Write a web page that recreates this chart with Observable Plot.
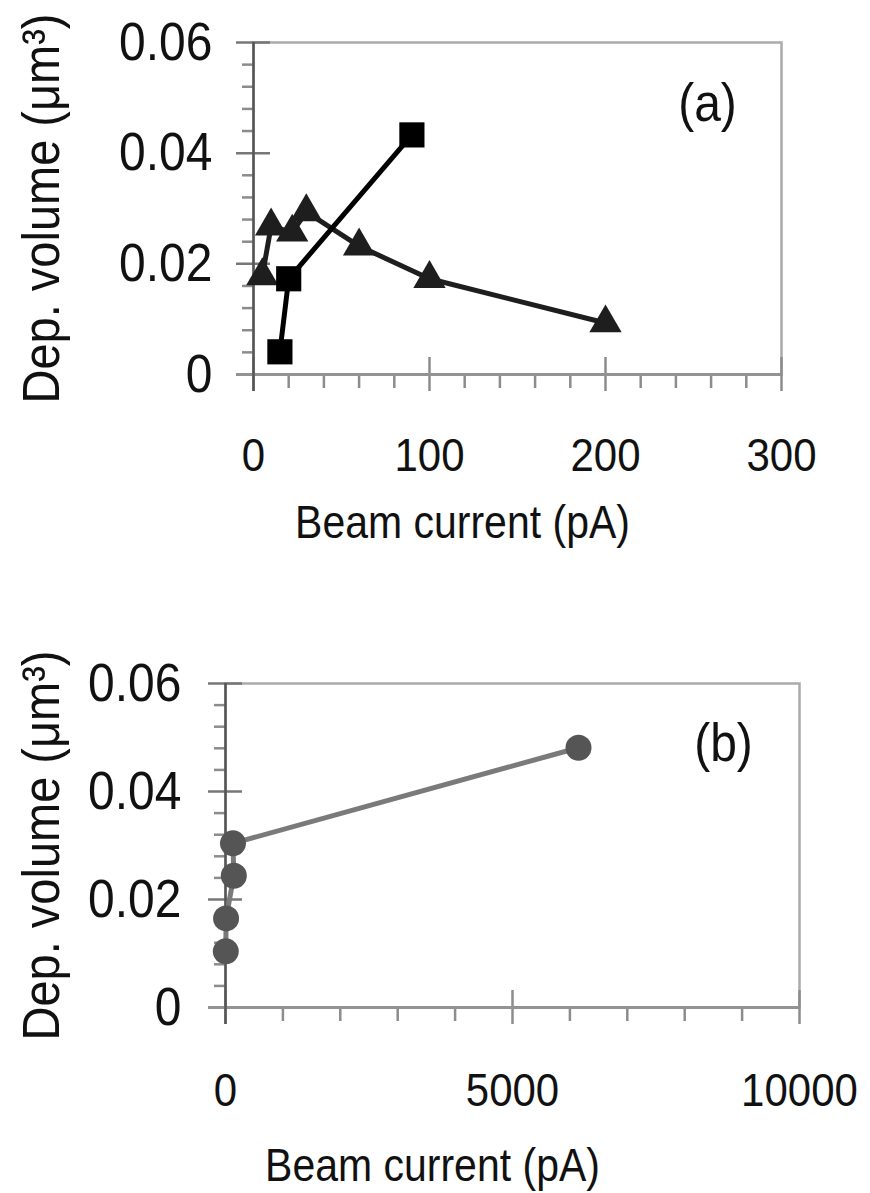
<!DOCTYPE html>
<html>
<head>
<meta charset="utf-8">
<script src="https://cdn.jsdelivr.net/npm/d3@7"></script>
<script src="https://cdn.jsdelivr.net/npm/@observablehq/plot@0.6"></script>
<style>
  html, body { margin: 0; padding: 0; background: white; }
  #chart svg { display: block; }
</style>
</head>
<body>
<div id="chart"></div>
<script>
// ---------- data ----------
// Panel (a)
const aSquareX = [15, 20, 90];
const aSquareY = [0.0041, 0.0173, 0.0433];
const aTriangleX = [5, 10, 22, 30, 60, 100, 200];
const aTriangleY = [0.0178, 0.0268, 0.0257, 0.0294, 0.0232, 0.0173, 0.0093];
// Panel (b)
const bCircleX = [5, 10, 145, 130, 6150];
const bCircleY = [0.0104, 0.0165, 0.0244, 0.0304, 0.0481];

// Axes / text
const yMajor = [0, 0.02, 0.04, 0.06];
const yMajorLabels = ["0", "0.02", "0.04", "0.06"];
const yMinor = [0.004, 0.008, 0.012, 0.016, 0.024, 0.028, 0.032, 0.036, 0.044, 0.048, 0.052, 0.056];
const aXMajor = [0, 100, 200, 300];
const aXMajorLabels = ["0", "100", "200", "300"];
const aXMinor = [20, 40, 60, 80, 120, 140, 160, 180, 220, 240, 260, 280];
const bXMajor = [0, 5000, 10000];
const bXMajorLabels = ["0", "5000", "10000"];
const bXMinor = [1000, 2000, 3000, 4000, 6000, 7000, 8000, 9000];
const yTitle = "Dep. volume (μm³)";
const xTitle = "Beam current (pA)";
const aTag = "(a)";
const bTag = "(b)";

const FONT = "'Liberation Sans', Arial, Helvetica, sans-serif";
const STRETCH = 1.12;

function rows(xs, ys) { return xs.map((x, i) => ({x, y: ys[i]})); }

function stretchText(svg) {
  d3.select(svg).selectAll("text").each(function () {
    const t = this.getAttribute("transform");
    if (t) {
      this.setAttribute("transform", t + ` scale(1,${STRETCH})`);
    } else {
      const x = +this.getAttribute("x") || 0, y = +this.getAttribute("y") || 0;
      this.removeAttribute("x"); this.removeAttribute("y");
      this.setAttribute("transform", `translate(${x},${y}) scale(1,${STRETCH})`);
    }
  });
  return svg;
}

function axisMarks({W, H, xMajor, xMajorLabels, xMinor, xPad, yPad, titleDx, titleDy, yTitleDx, tag, tagDx, tagDy}) {
  return [
    Plot.frame({stroke: "#ababab", strokeWidth: 2.5}),
    // y ticks
    Plot.tickY(yMinor, {y: d => d, stroke: "#8c8c8c", strokeWidth: 2.5, insetLeft: -11, insetRight: W}),
    Plot.tickY(yMajor, {y: d => d, stroke: "#777", strokeWidth: 2.5, insetLeft: -17, insetRight: W - 17}),
    // x ticks
    Plot.tickX(xMinor, {x: d => d, stroke: "#8c8c8c", strokeWidth: 2.5, insetTop: H, insetBottom: -14}),
    Plot.tickX(xMajor, {x: d => d, stroke: "#8c8c8c", strokeWidth: 2.5, insetTop: H - 17, insetBottom: -17}),
    // axis lines
    Plot.ruleY([0], {stroke: "#939393", strokeWidth: 3, insetLeft: -17}),
    Plot.ruleX([0], {stroke: "#555", strokeWidth: 2.5, insetBottom: -17}),
    // tick labels
    Plot.axisY({ticks: yMajor, tickSize: 0, tickPadding: yPad, tickFormat: (d) => yMajorLabels[yMajor.indexOf(d)], fontSize: 48, label: null, fill: "#111"}),
    Plot.axisX({ticks: xMajor, tickSize: 0, tickPadding: xPad, tickFormat: (d) => xMajorLabels[xMajor.indexOf(d)], fontSize: 42, label: null, fill: "#111"}),
    // titles
    Plot.text([xTitle], {text: d => d, frameAnchor: "bottom", lineAnchor: "bottom", textAnchor: "middle", dx: titleDx, dy: titleDy, fontSize: 41, fill: "#111"}),
    Plot.text([yTitle], {text: d => d, frameAnchor: "left", rotate: -90, lineAnchor: "bottom", textAnchor: "middle", dx: yTitleDx, fontSize: 47, fill: "#111"}),
    Plot.text([tag], {text: d => d, frameAnchor: "top-right", lineAnchor: "middle", textAnchor: "middle", dx: tagDx, dy: tagDy, fontSize: 48, fill: "#111"})
  ];
}

// ---------- Panel (a) ----------
const aML = 253, aMR = 870 - 781, aMT = 42, aMB = 596 - 374;
const aW = 870 - aML - aMR, aH = 596 - aMT - aMB;
const plotA = Plot.plot({
  width: 870, height: 596,
  marginLeft: aML, marginRight: aMR, marginTop: aMT, marginBottom: aMB,
  style: {fontFamily: FONT, background: "white", color: "#111", overflow: "visible"},
  x: {domain: [0, 300]},
  y: {domain: [0, 0.06]},
  marks: [
    ...axisMarks({W: aW, H: aH, xMajor: aXMajor, xMajorLabels: aXMajorLabels, xMinor: aXMinor,
      xPad: 63, yPad: 41, titleDx: 462 - (aML + aW / 2), titleDy: 163, yTitleDx: 58 - aML,
      tag: aTag, tagDx: 707 - 781, tagDy: 61}),
    Plot.line(rows(aTriangleX, aTriangleY), {x: "x", y: "y", stroke: "#1e1e1e", strokeWidth: 5}),
    Plot.line(rows(aSquareX, aSquareY), {x: "x", y: "y", stroke: "#000", strokeWidth: 5}),
    Plot.dot(rows(aTriangleX, aTriangleY), {x: "x", y: "y", symbol: "triangle", r: 12, fill: "#1e1e1e", stroke: null}),
    Plot.dot(rows(aSquareX, aSquareY), {x: "x", y: "y", symbol: "square", r: 14.2, fill: "#000", stroke: null})
  ]
});

// ---------- Panel (b) ----------
const bML = 225, bMR = 870 - 799, bMT = 683 - 596, bMB = 1193 - 1007;
const bW = 870 - bML - bMR, bH = 597 - bMT - bMB;
const plotB = Plot.plot({
  width: 870, height: 597,
  marginLeft: bML, marginRight: bMR, marginTop: bMT, marginBottom: bMB,
  style: {fontFamily: FONT, background: "white", color: "#111", overflow: "visible"},
  x: {domain: [0, 10000]},
  y: {domain: [0, 0.06]},
  marks: [
    ...axisMarks({W: bW, H: bH, xMajor: bXMajor, xMajorLabels: bXMajorLabels, xMinor: bXMinor,
      xPad: 65, yPad: 44, titleDx: 432 - (bML + bW / 2), titleDy: 173, yTitleDx: 58 - bML,
      tag: bTag, tagDx: 723 - 799, tagDy: 60}),
    Plot.line(rows(bCircleX, bCircleY), {x: "x", y: "y", stroke: "#7a7a7a", strokeWidth: 5}),
    Plot.dot(rows(bCircleX, bCircleY), {x: "x", y: "y", r: 13, fill: "#555", stroke: null})
  ]
});

const chart = document.getElementById("chart");
chart.appendChild(stretchText(plotA));
chart.appendChild(stretchText(plotB));
</script>
</body>
</html>
